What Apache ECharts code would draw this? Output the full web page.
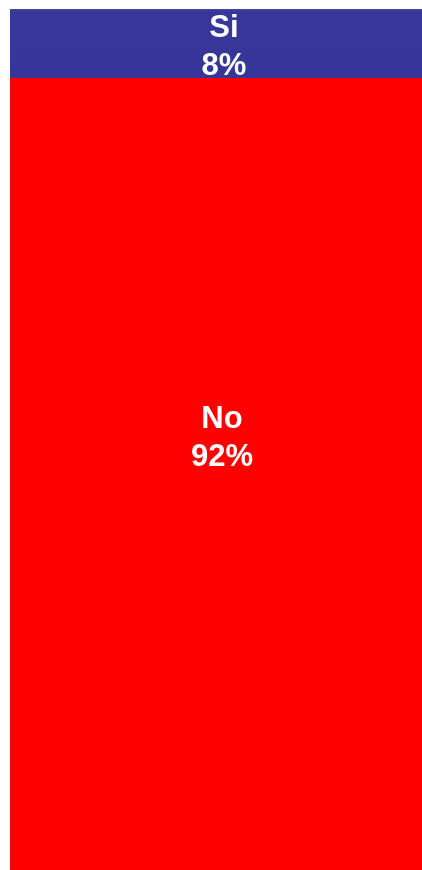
<!DOCTYPE html>
<html>
<head>
<meta charset="utf-8">
<script src="https://cdn.jsdelivr.net/npm/echarts@6/dist/echarts.min.js"></script>
<style>
  html, body { margin: 0; padding: 0; background: #fff; }
  #chart { width: 422px; height: 870px; }
</style>
</head>
<body>
<div id="chart"></div>
<script>
var categories = ['Respuesta'];
var seriesNames = ['No', 'Si'];
var noValues = [92];
var siValues = [8];

var chart = echarts.init(document.getElementById('chart'));

var labelStyle = {
  show: true,
  position: 'inside',
  formatter: '{a}\n{c}%',
  color: '#fff',
  fontFamily: 'Liberation Sans, Arial, sans-serif',
  fontWeight: 'bold',
  fontSize: 31,
  lineHeight: 38
};

var option = {
  animation: false,
  grid: { left: 10, right: 0, top: 9, bottom: 0 },
  xAxis: {
    type: 'category',
    data: categories,
    show: false
  },
  yAxis: {
    type: 'value',
    min: 0,
    max: 100,
    show: false
  },
  series: [
    {
      name: seriesNames[0],
      type: 'bar',
      stack: 'total',
      data: noValues,
      barCategoryGap: 0,
      barWidth: '100%',
      itemStyle: { color: '#ff0000' },
      label: Object.assign({}, labelStyle, { offset: [6, -35] })
    },
    {
      name: seriesNames[1],
      type: 'bar',
      stack: 'total',
      data: siValues,
      barWidth: '100%',
      itemStyle: {
        color: new echarts.graphic.LinearGradient(0, 0, 0, 1, [
          { offset: 0, color: '#4545a4' },
          { offset: 0.04, color: '#373799' },
          { offset: 1, color: '#36369a' }
        ])
      },
      label: Object.assign({}, labelStyle, { offset: [8, 4] })
    }
  ]
};

chart.setOption(option);
</script>
</body>
</html>
